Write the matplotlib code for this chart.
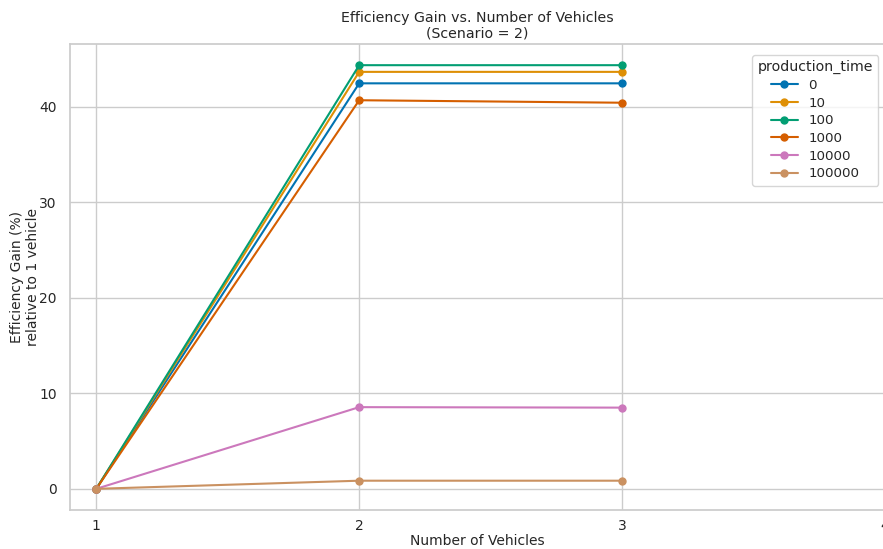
import matplotlib
matplotlib.use("Agg")
import matplotlib.pyplot as plt
import seaborn as sns

sns.set_theme(style="whitegrid")
plt.rcParams['font.family'] = ['DejaVu Sans']

vehicles = [1, 2, 3]
production_times = ["0", "10", "100", "1000", "10000", "100000"]
gain_0 = [0.0, 42.45, 42.45]
gain_10 = [0.0, 43.65, 43.65]
gain_100 = [0.0, 44.35, 44.35]
gain_1000 = [0.0, 40.68, 40.42]
gain_10000 = [0.0, 8.55, 8.50]
gain_100000 = [0.0, 0.85, 0.85]
series = [gain_0, gain_10, gain_100, gain_1000, gain_10000, gain_100000]

colors = sns.color_palette("colorblind", 6)

fig = plt.figure(figsize=(8.83, 5.49), dpi=100)
ax = fig.add_axes([70 / 883, 1 - 510 / 549, (885 - 70) / 883, (510 - 44) / 549])

for label, vals, c in zip(production_times, series, colors):
    ax.plot(vehicles, vals, marker="o", markersize=5, linewidth=1.5, color=c, label=label)

ax.set_xlim(0.9, 4.0)
ax.set_xticks([1, 2, 3, 4])
ax.set_yticks([0, 10, 20, 30, 40])
ax.tick_params(labelsize=10)
ax.tick_params(axis="x", pad=0.5)
ax.set_xlabel("Number of Vehicles", fontsize=10, labelpad=1)
ax.set_ylabel("Efficiency Gain (%)\nrelative to 1 vehicle", fontsize=10)
ax.yaxis.set_label_coords(-30 / 815, 0.5)
ax.set_title("Efficiency Gain vs. Number of Vehicles\n(Scenario = 2)", fontsize=10.2, pad=4.5)

leg = ax.legend(title="production_time", fontsize=9.6, title_fontsize=10.2,
                loc="upper left", bbox_to_anchor=(752 / 883, 1 - 55 / 549),
                bbox_transform=fig.transFigure, borderaxespad=0,
                labelspacing=0.35, handlelength=2.0)

fig.savefig("out.png", dpi=100)
